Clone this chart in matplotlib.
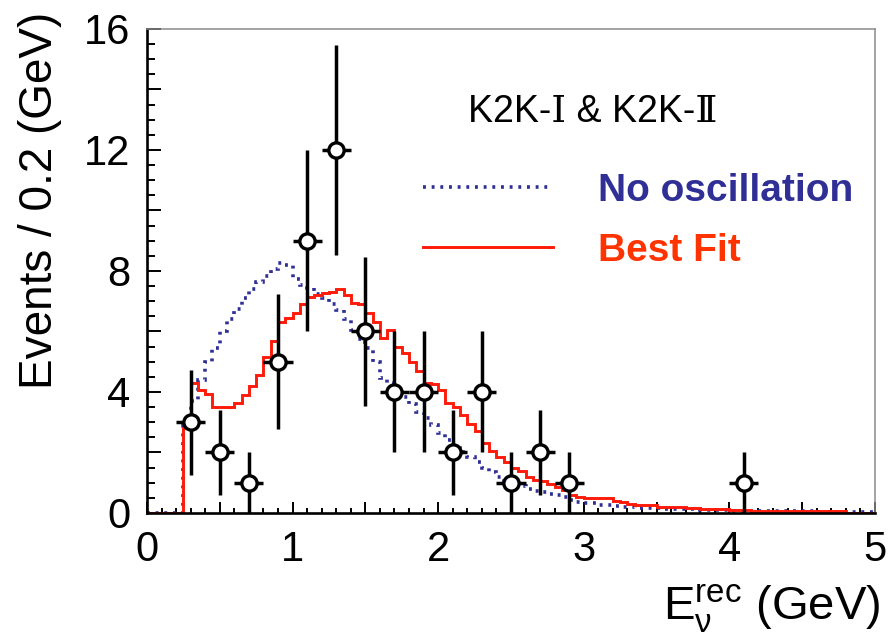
import numpy as np
import matplotlib
matplotlib.use("Agg")
import matplotlib.pyplot as plt
from matplotlib.ticker import MultipleLocator, FuncFormatter

plt.rcParams['font.family'] = ['Liberation Sans', 'DejaVu Sans']
plt.rcParams['mathtext.fontset'] = 'custom'
plt.rcParams['mathtext.rm'] = 'Liberation Sans'
plt.rcParams['mathtext.it'] = 'Liberation Sans:italic'

# expected spectra: 100 bins of 0.05 GeV from 0 to 5 GeV
e_lo, e_hi, n_bins = 0.0, 5.0, 100

best_fit = [
    0, 0, 0, 0, 0, 2.8, 4.3, 4.05, 3.95, 3.5,                 # 0.00 - 0.50
    3.5, 3.5, 3.65, 3.9, 4.2, 4.55, 5.15, 5.7, 6.3, 6.45,     # 0.50 - 1.00
    6.6, 6.9, 7.15, 7.2, 7.27, 7.3, 7.4, 7.2, 6.95, 6.9,      # 1.00 - 1.50
    6.6, 6.3, 5.8, 6.05, 5.5, 5.3, 5.0, 4.7, 4.3, 4.25,       # 1.50 - 2.00
    4.05, 3.65, 3.5, 3.25, 2.95, 2.7, 2.3, 2.05, 1.85, 1.7,   # 2.00 - 2.50
    1.5, 1.4, 1.2, 1.1, 1.05, 0.95, 0.85, 0.75, 0.6, 0.52,    # 2.50 - 3.00
    0.5, 0.5, 0.5, 0.48, 0.4, 0.37, 0.3, 0.27, 0.26, 0.25,    # 3.00 - 3.50
    0.2, 0.2, 0.2, 0.19, 0.18, 0.17, 0.14, 0.13, 0.12, 0.12,  # 3.50 - 4.00
    0.1, 0.09, 0.09, 0.08, 0.08, 0.08, 0.08, 0.07, 0.07, 0.07,  # 4.00 - 4.50
    0.07, 0.06, 0.06, 0.06, 0.06, 0.05, 0, 0, 0, 0,            # 4.50 - 5.00
]

no_oscillation = [
    0, 0, 0, 0, 0, 2.9, 3.7, 4.4, 5.0, 5.45,                  # 0.00 - 0.50
    6.0, 6.4, 6.75, 7.1, 7.4, 7.65, 7.85, 8.05, 8.25, 8.2,    # 0.50 - 1.00
    7.75, 7.55, 7.43, 7.25, 7.1, 6.9, 6.7, 6.4, 6.05, 5.75,   # 1.00 - 1.50
    5.45, 5.0, 4.45, 4.3, 4.1, 3.85, 3.6, 3.35, 3.15, 2.9,    # 1.50 - 2.00
    2.65, 2.4, 2.15, 2.0, 1.85, 1.7, 1.5, 1.35, 1.2, 1.08,    # 2.00 - 2.50
    0.97, 0.88, 0.8, 0.72, 0.68, 0.64, 0.6, 0.52, 0.42, 0.36, # 2.50 - 3.00
    0.33, 0.32, 0.28, 0.26, 0.24, 0.21, 0.2, 0.18, 0.17, 0.16,  # 3.00 - 3.50
    0.15, 0.14, 0.13, 0.13, 0.12, 0.12, 0.11, 0.1, 0.1, 0.09,   # 3.50 - 4.00
    0.08, 0.08, 0.07, 0.07, 0.07, 0.06, 0.06, 0.06, 0.05, 0.05, # 4.00 - 4.50
    0.05, 0.05, 0.04, 0.04, 0.04, 0.04, 0.03, 0.03, 0.03, 0.03, # 4.50 - 5.00
]

# observed events, 0.2 GeV bins
data_energy = [0.3, 0.5, 0.7, 0.9, 1.1, 1.3, 1.5, 1.7, 1.9, 2.1, 2.3, 2.5, 2.7, 2.9, 4.1]
data_events = [3, 2, 1, 5, 9, 12, 6, 4, 4, 2, 4, 1, 2, 1, 1]
data_error = [1.73, 1.41, 1.0, 2.24, 3.0, 3.46, 2.45, 2.0, 2.0, 1.41, 2.0, 1.0, 1.41, 1.0, 1.0]
half_bin = 0.1

BLUE = '#2f2f96'
RED = '#ff1a0a'
RED_TXT = '#ff3300'

fig = plt.figure(figsize=(8.88, 6.41), dpi=100)
ax = fig.add_axes([0.1655, 0.1997, 0.8198, 0.7551])

edges = np.linspace(e_lo, e_hi, n_bins + 1)
ax.stairs(no_oscillation, edges, color=BLUE, linewidth=2.6,
          linestyle=(0, (0.8, 1.6)), label='No oscillation', zorder=3)
ax.stairs(best_fit, edges, color=RED, linewidth=2.1, label='Best Fit', zorder=3)

ax.errorbar(data_energy, data_events, yerr=data_error, xerr=half_bin, fmt='o',
            ms=11, mfc='white', mec='black', mew=2.4, ecolor='black',
            elinewidth=2.5, capsize=0, zorder=5)

ax.set_xlim(0, 5)
ax.set_ylim(0, 16)

# ROOT-like frame: heavy left/bottom axes, light top/right
for side in ('left', 'bottom'):
    ax.spines[side].set_linewidth(1.9)
    ax.spines[side].set_color('black')
for side in ('top', 'right'):
    ax.spines[side].set_linewidth(1.1)
    ax.spines[side].set_color('#8a8a8a')
for sp in ax.spines.values():
    sp.set_zorder(10)

ax.xaxis.set_major_locator(MultipleLocator(0.5))
ax.xaxis.set_minor_locator(MultipleLocator(0.1))
ax.yaxis.set_major_locator(MultipleLocator(2))
ax.yaxis.set_minor_locator(MultipleLocator(0.5))
ax.xaxis.set_major_formatter(FuncFormatter(lambda v, p: f'{v:.0f}' if abs(v - round(v)) < 1e-6 else ''))
ax.yaxis.set_major_formatter(FuncFormatter(lambda v, p: f'{v:.0f}' if round(v) % 4 == 0 else ''))

ax.tick_params(which='both', direction='in', top=False, right=False, width=1.4)
ax.tick_params(axis='x', which='major', length=8, pad=12, labelsize=30)
ax.tick_params(axis='x', which='minor', length=3.8)
ax.tick_params(axis='y', which='major', length=10, pad=12, labelsize=30)
ax.tick_params(axis='y', which='minor', length=5.5)

ax.set_ylabel('Events / 0.2 (GeV)', fontsize=33, ha='right')
ax.yaxis.set_label_coords(-0.117, 1.035)
ax.set_xlabel(r'E$_{\mathrm{ν}}^{\mathrm{rec}}$ (GeV)', fontsize=34, ha='right', va='baseline')
ax.xaxis.set_label_coords(1.007, -0.221)

ax.text(0.441, 0.828, 'K2K-Ⅰ & K2K-Ⅱ', transform=ax.transAxes, fontsize=27,
        family=['Liberation Sans', 'DejaVu Serif'], ha='left', va='center')

leg = ax.legend(loc='upper left', bbox_to_anchor=(0.379, 0.703), frameon=False,
                prop={'size': 28, 'weight': 'bold'}, handlelength=3.35,
                handletextpad=1.15, labelspacing=0.62, borderpad=0, borderaxespad=0,
                labelcolor=[BLUE, RED_TXT])

fig.savefig('out.png', dpi=100, facecolor='white')
